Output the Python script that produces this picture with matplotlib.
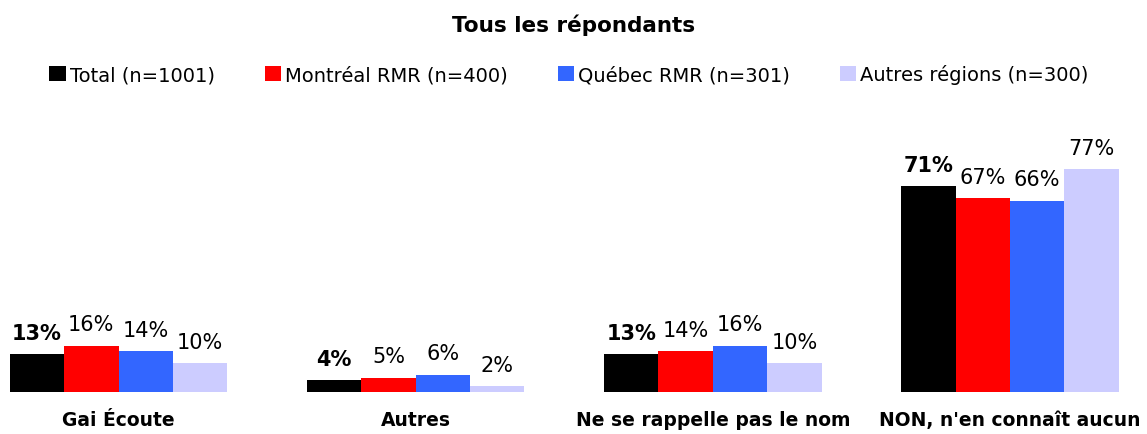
import matplotlib
matplotlib.use("Agg")
import matplotlib.pyplot as plt
import numpy as np

categories = ["Gai Écoute", "Autres", "Ne se rappelle pas le nom", "NON, n'en connaît aucun"]
series_names = ["Total (n=1001)", "Montréal RMR (n=400)", "Québec RMR (n=301)", "Autres régions (n=300)"]
total = [13, 4, 13, 71]
montreal = [16, 5, 14, 67]
quebec = [14, 6, 16, 66]
autres = [10, 2, 10, 77]
colors = ["#000000", "#FF0000", "#3366FF", "#CCCCFF"]

plt.rcParams['font.family'] = ['DejaVu Sans']

fig = plt.figure(figsize=(11.47, 4.35), dpi=100)
ax = fig.add_axes([0, 42 / 435, 1, 290 / 435])

x = np.arange(len(categories))
w = 0.183
series = [total, montreal, quebec, autres]
for i, (vals, name, c) in enumerate(zip(series, series_names, colors)):
    pos = x + (i - 1.5) * w
    bars = ax.bar(pos, vals, width=w, color=c, label=name, linewidth=0)
    for b, v in zip(bars, vals):
        ax.annotate(f"{v}%", (b.get_x() + b.get_width() / 2, v),
                    xytext=(0, 8), textcoords="offset points",
                    ha="center", va="bottom", fontsize=15,
                    fontweight="bold" if i == 0 else "normal")

ax.set_xlim(-0.399, 3.461)
ax.set_ylim(0, 100)
ax.set_xticks(x)
ax.set_xticklabels(categories, fontsize=13.5, fontweight="bold")
ax.tick_params(axis="x", length=0, pad=13)
ax.set_yticks([])
for s in ax.spines.values():
    s.set_visible(False)

fig.text(0.5, 1 - 25 / 435, "Tous les répondants", ha="center", va="center",
         fontsize=15.5, fontweight="bold")

fig.legend(loc="center", bbox_to_anchor=(0.496, 1 - 75 / 435), ncol=4,
           frameon=False, fontsize=14, handlelength=0.85, handleheight=0.85,
           handletextpad=0.2, columnspacing=2.57, borderaxespad=0)

fig.savefig("out.png", dpi=100)
